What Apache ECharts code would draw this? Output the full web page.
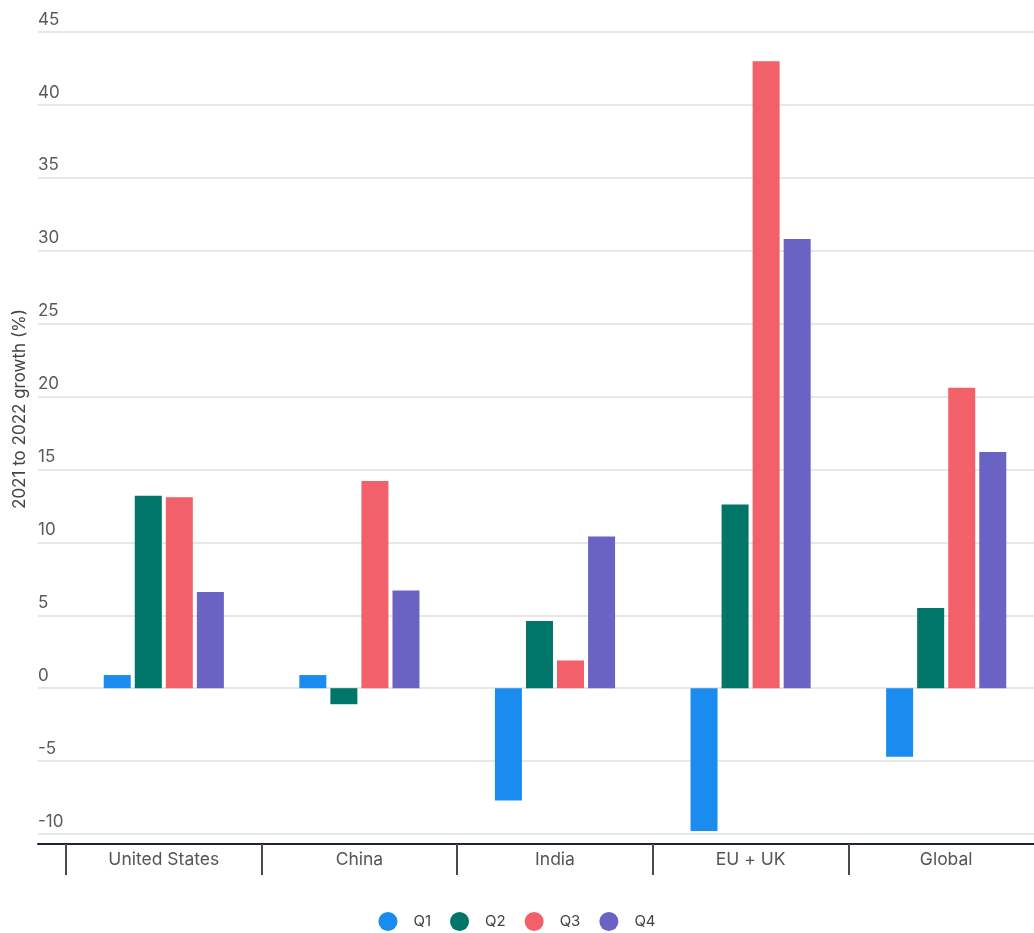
<!DOCTYPE html>
<html>
<head>
<meta charset="utf-8">
<script src="https://cdn.jsdelivr.net/npm/echarts@6/dist/echarts.min.js"></script>
<style>
  html, body { margin: 0; padding: 0; background: #fff; }
  #chart { width: 1034px; height: 933px; }
</style>
</head>
<body>
<div id="chart"></div>
<script>
// Regions along the category axis
const regions = ['United States', 'China', 'India', 'EU + UK', 'Global'];

// Quarterly 2021-to-2022 growth, percent
const q1 = [0.9, 0.9, -7.7, -9.8, -4.7];
const q2 = [13.2, -1.1, 4.6, 12.6, 5.5];
const q3 = [13.1, 14.2, 1.9, 43.0, 20.6];
const q4 = [6.6, 6.7, 10.4, 30.8, 16.2];

const seriesNames = ['Q1', 'Q2', 'Q3', 'Q4'];
const seriesValues = [q1, q2, q3, q4];
const seriesColors = ['#1a8cf0', '#00756a', '#f2606a', '#6b63c3'];

// Value axis range and step
const yMin = -10;
const yMax = 45;
const yStep = 5;

const FONT = 'Inter, "Noto Sans", sans-serif';

const chart = echarts.init(document.getElementById('chart'));

const option = {
  backgroundColor: '#ffffff',
  animation: false,
  textStyle: { fontFamily: FONT },
  grid: [
    // background grid: gridlines, tick labels and the baseline
    { left: 38, width: 1006, top: 32, bottom: 99, outerBoundsMode: 'none', containLabel: false },
    // plotting grid: bars and category dividers (last divider runs off the page)
    { left: 66, width: 978, top: 32, bottom: 99, outerBoundsMode: 'none', containLabel: false }
  ],
  xAxis: [
    {
      gridIndex: 0,
      type: 'value',
      min: 0,
      max: 1,
      position: 'bottom',
      offset: 10,
      axisLine: { show: true, onZero: false, lineStyle: { color: '#1c2340', width: 2 } },
      axisTick: { show: false },
      axisLabel: { show: false },
      splitLine: { show: false }
    },
    {
      gridIndex: 1,
      type: 'category',
      data: regions,
      position: 'bottom',
      offset: 10,
      boundaryGap: true,
      axisLine: { show: false, onZero: false },
      axisTick: {
        show: true,
        interval: 0,
        length: 31,
        lineStyle: { color: '#4a4a4a', width: 2 }
      },
      axisLabel: {
        interval: 0,
        margin: 7,
        color: '#555555',
        fontSize: 17.5,
        fontFamily: FONT
      },
      splitLine: { show: false }
    }
  ],
  yAxis: [
    {
      gridIndex: 0,
      type: 'value',
      min: yMin,
      max: yMax,
      interval: yStep,
      axisLine: { show: false },
      axisTick: { show: false },
      axisLabel: {
        inside: true,
        margin: 0,
        align: 'left',
        verticalAlign: 'bottom',
        padding: [0, 0, 4, 0],
        color: '#5a5a5a',
        fontSize: 17,
        fontFamily: FONT
      },
      splitLine: { show: true, lineStyle: { color: '#e0e0e0', width: 1.5 } }
    },
    {
      gridIndex: 1,
      type: 'value',
      min: yMin,
      max: yMax,
      interval: yStep,
      show: false,
      splitLine: { show: false }
    }
  ],
  legend: {
    data: seriesNames,
    left: 'center',
    top: 907,
    icon: 'circle',
    itemWidth: 19,
    itemHeight: 19,
    itemGap: 19,
    textStyle: {
      color: '#444444',
      fontSize: 15,
      fontFamily: FONT,
      padding: [0, 0, 0, 11]
    }
  },
  graphic: [
    {
      // rotated axis title, placed by its centre point
      type: 'text',
      x: 20,
      y: 409,
      rotation: Math.PI / 2,
      style: {
        text: '2021 to 2022 growth (%)',
        fill: '#444444',
        font: '17px ' + FONT,
        align: 'center',
        verticalAlign: 'middle'
      }
    }
  ],
  series: seriesNames.map((name, i) => ({
    name: name,
    type: 'bar',
    xAxisIndex: 1,
    yAxisIndex: 1,
    data: seriesValues[i],
    barWidth: 27,
    barGap: '15%',
    itemStyle: { color: seriesColors[i] }
  }))
};

chart.setOption(option);
</script>
</body>
</html>
